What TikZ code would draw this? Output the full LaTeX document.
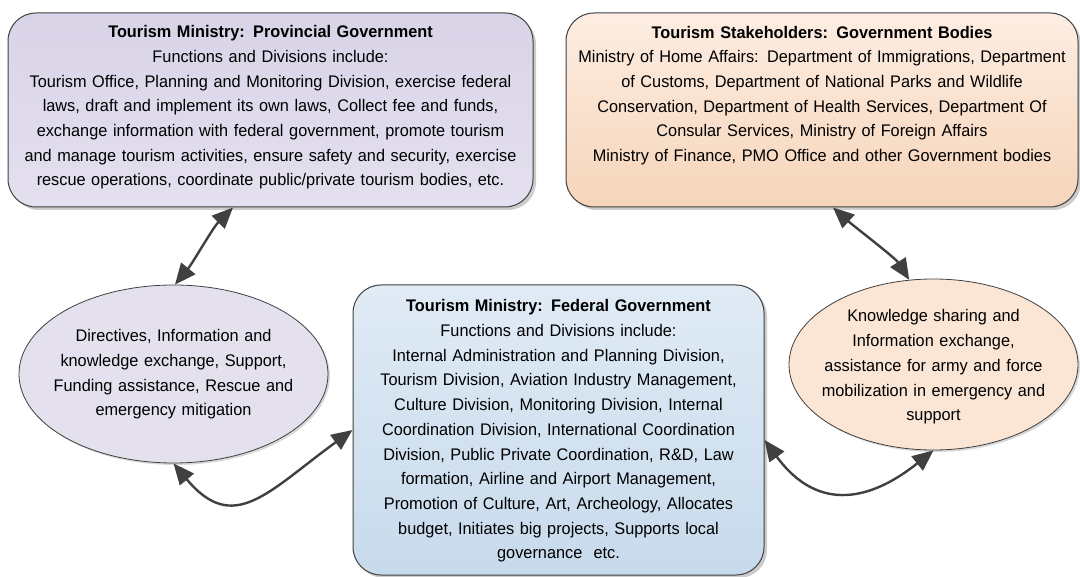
\documentclass[tikz,border=0pt]{standalone}
\usepackage{fontspec}
\setmainfont[FakeStretch=0.97]{Liberation Sans}
\usetikzlibrary{arrows.meta,shapes.geometric,shadows}

\definecolor{edge}{RGB}{64,64,64}
\definecolor{provtop}{RGB}{217,211,231}
\definecolor{provbot}{RGB}{228,224,239}
\definecolor{staketop}{RGB}{253,237,226}
\definecolor{stakebot}{RGB}{246,213,186}
\definecolor{fedtop}{RGB}{224,235,245}
\definecolor{fedbot}{RGB}{199,218,236}
\definecolor{lellfill}{RGB}{228,224,237}
\definecolor{rellfill}{RGB}{251,230,214}

\begin{document}
\begin{tikzpicture}[
  x=1pt,
  y=-1pt, % <-- one unit per pixel, y runs down
  >={Triangle[length=21pt,width=18pt]},
  every node/.style={font=\fontsize{16.8}{24.7}\selectfont},
  govbox/.style={draw=edge, line width=1pt, rounded corners=28pt, inner sep=0pt,
    drop shadow={shadow xshift=3pt, shadow yshift=-3pt, fill=black!40, opacity=.5}},
  infoell/.style={ellipse, draw=edge, line width=0.8pt, inner sep=0pt,
    drop shadow={shadow xshift=2pt, shadow yshift=-2pt, fill=black!30, opacity=.5}},
  txt/.style={align=center, inner sep=0pt, text width=#1},
  link/.style={<->, line width=2.4pt, draw=edge}
]

\useasboundingbox (0,0) rectangle (1080,577);

% --- Boxes ---
\node[govbox, minimum width=525, minimum height=194, top color=provtop, bottom color=provbot]
  (prov) at (270.5,110) {};
\node[govbox, minimum width=512, minimum height=194, top color=staketop, bottom color=stakebot]
  (stake) at (822,110) {};
\node[govbox, minimum width=411, minimum height=290, top color=fedtop, bottom color=fedbot]
  (fed) at (558.5,430) {};

% --- Ellipses ---
\node[infoell, minimum width=309, minimum height=178, fill=lellfill] (lell) at (173.5,374) {};
\node[infoell, minimum width=289, minimum height=171, fill=rellfill] (rell) at (933.5,364.5) {};

% --- Texts ---
\node[txt=520pt] (provtxt) at (270.5,107.5) {\textbf{Tourism Ministry: Provincial Government}\\
  Functions and Divisions include:\\
  Tourism Office, Planning and Monitoring Division, exercise federal\\
  laws, draft and implement its own laws, Collect fee and funds,\\
  exchange information with federal government, promote tourism\\
  and manage tourism activities, ensure safety and security, exercise\\
  rescue operations, coordinate public/private tourism bodies, etc.};

\node[txt=510pt] (staketxt) at (822,95.5) {\textbf{Tourism Stakeholders: Government Bodies}\\
  Ministry of Home Affairs: Department of Immigrations, Department\\
  of Customs, Department of National Parks and Wildlife\\
  Conservation, Department of Health Services, Department Of\\
  Consular Services, Ministry of Foreign Affairs\\
  Ministry of Finance, PMO Office and other Government bodies};

\node[txt=408pt] (fedtxt) at (558.5,431) {\textbf{Tourism Ministry: Federal Government}\\
  Functions and Divisions include:\\
  Internal Administration and Planning Division,\\
  Tourism Division, Aviation Industry Management,\\
  Culture Division, Monitoring Division, Internal\\
  Coordination Division, International Coordination\\
  Division, Public Private Coordination, R\&D, Law\\
  formation, Airline and Airport Management,\\
  Promotion of Culture, Art, Archeology, Allocates\\
  budget, Initiates big projects, Supports local\\
  governance\ \ etc.};

\node[txt=300pt] (lelltxt) at (173.5,374.5) {Directives, Information and\\
  knowledge exchange, Support,\\
  Funding assistance, Rescue and\\
  emergency mitigation};

\node[txt=285pt] (relltxt) at (933.5,367) {Knowledge sharing and\\
  Information exchange,\\
  assistance for army and force\\
  mobilization in emergency and\\
  support};

% --- Links ---
\draw[link] ([xshift=-37.5pt]prov.south) .. controls +(-20,20) and +(18,-22) .. ([xshift=1.5pt]lell.north);
\draw[link] (lell.south) .. controls +(60,72) and +(-85,62) .. (fed.west);
\draw[link] ([xshift=11pt]stake.south) .. controls +(20,18) and +(-14,-22) .. (rell.106);
\draw[link] ([yshift=-10pt]fed.east) .. controls +(55,75) and +(-60,48) .. (rell.south);

\end{tikzpicture}
\end{document}
